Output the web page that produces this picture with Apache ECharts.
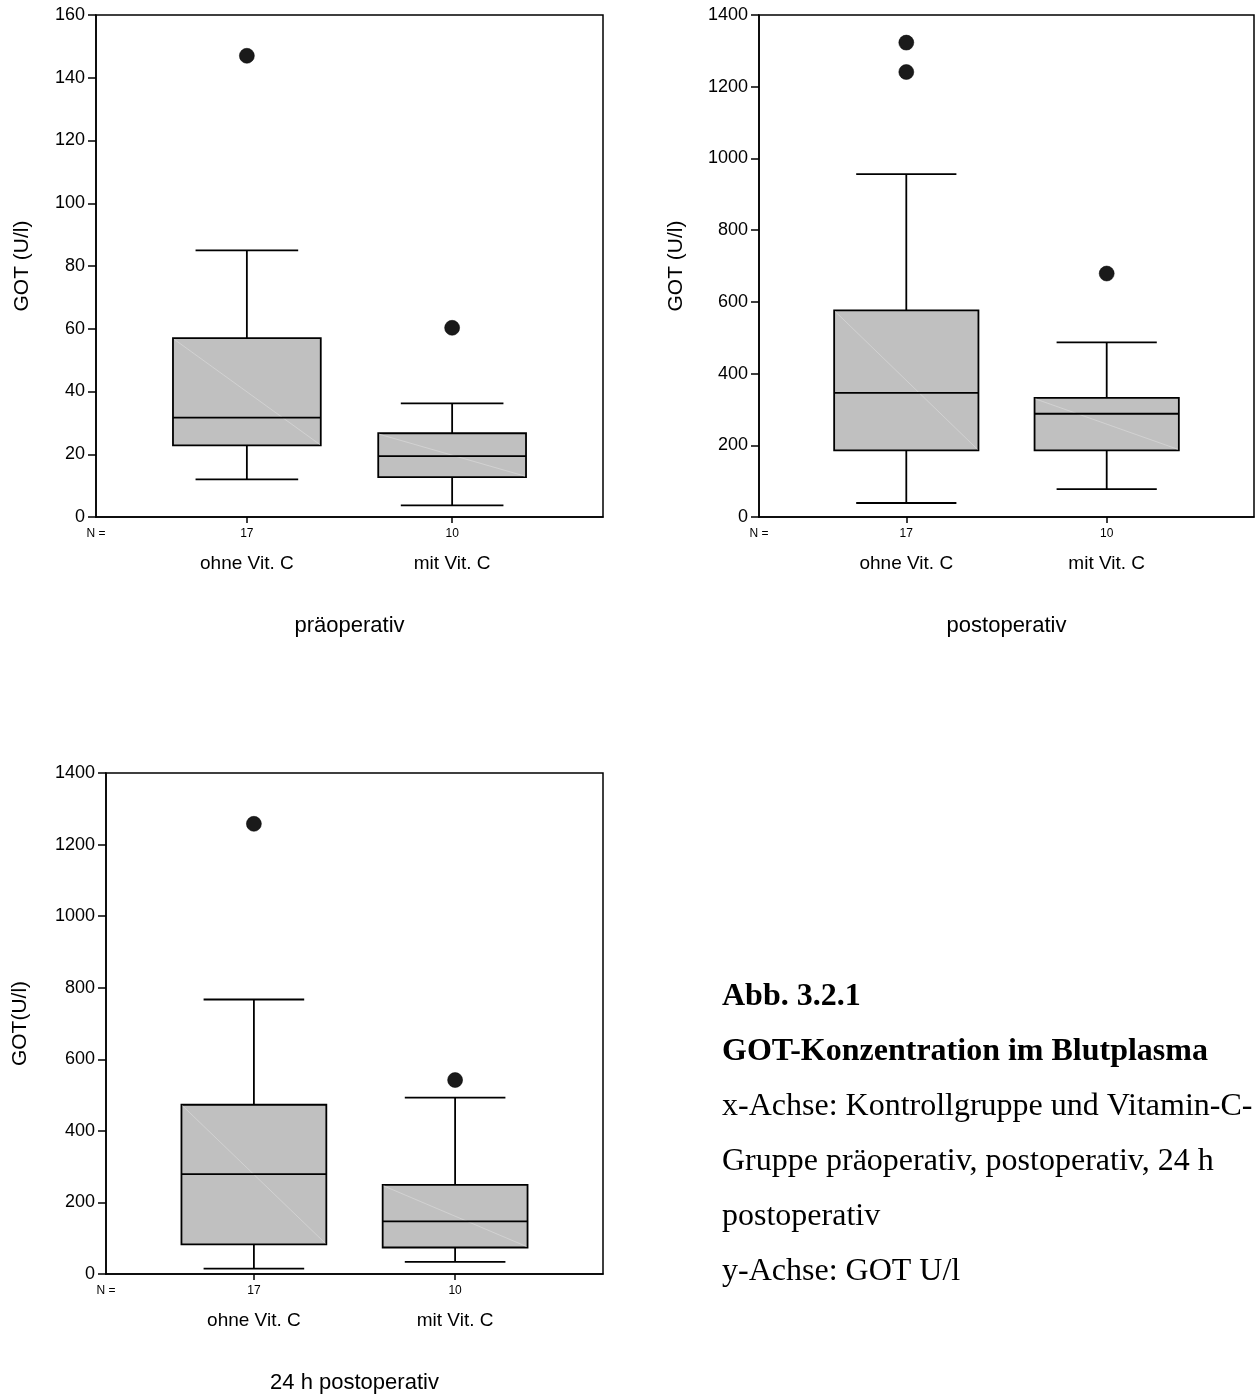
<!DOCTYPE html>
<html>
<head>
<meta charset="utf-8">
<script src="https://cdn.jsdelivr.net/npm/echarts@6.0.0/dist/echarts.min.js"></script>
<style>
  html, body { margin: 0; padding: 0; background: #fff; }
  #chart { width: 1256px; height: 1395px; }
</style>
</head>
<body>
<div id="chart"></div>
<script>
// ---------- data ----------
const groups = ['ohne Vit. C', 'mit Vit. C'];
const counts = ['17', '10'];
const panelTitles = ['präoperativ', 'postoperativ', '24 h postoperativ'];
const yNames = ['GOT (U/l)', 'GOT (U/l)', 'GOT(U/l)'];
const yMax = [160, 1400, 1400];
const yStep = [20, 200, 200];

// [min, Q1, median, Q3, max] per group
const praeBoxes = [[12, 22.8, 31.7, 57, 85], [3.7, 12.7, 19.4, 26.7, 36.2]];
const praeOutliers = [[0, 147], [1, 60.3]];

const postBoxes = [[39, 186, 346, 576, 956], [78, 186, 288, 332, 487]];
const postOutliers = [[0, 1323], [0, 1241], [1, 679]];

const h24Boxes = [[15, 83, 279, 473, 767], [34, 74, 147, 249, 493]];
const h24Outliers = [[0, 1258], [1, 542]];

const captionLines = [
  'Abb. 3.2.1',
  'GOT-Konzentration im Blutplasma',
  'x-Achse: Kontrollgruppe und Vitamin-C-',
  'Gruppe präoperativ, postoperativ, 24 h',
  'postoperativ',
  'y-Achse: GOT U/l'
];
const captionBold = [true, true, false, false, false, false];

// ---------- layout ----------
const FONT = '"Liberation Sans", Arial, sans-serif';
const SERIF = '"Liberation Serif", "Times New Roman", serif';
const X_MIN = -0.735, X_MAX = 1.735;
const gridBoxes = [
  { left: 96, top: 15, width: 507, height: 502 },
  { left: 759, top: 15, width: 495, height: 502 },
  { left: 106, top: 773, width: 497, height: 503 }
];
const yNameGaps = [63, 72, 75];
const allBoxes = [praeBoxes, postBoxes, h24Boxes];
const allOutliers = [praeOutliers, postOutliers, h24Outliers];

const LW = 1.8;

function renderBox(params, api) {
  const x = api.value(0);
  const lo = api.value(1), q1 = api.value(2), med = api.value(3), q3 = api.value(4), hi = api.value(5);
  const hb = 0.36, hc = 0.25;
  const tl = api.coord([x - hb, q3]);
  const br = api.coord([x + hb, q1]);
  const mL = api.coord([x - hb, med]);
  const mR = api.coord([x + hb, med]);
  const cHiL = api.coord([x - hc, hi]);
  const cHiR = api.coord([x + hc, hi]);
  const cLoL = api.coord([x - hc, lo]);
  const cLoR = api.coord([x + hc, lo]);
  const c = api.coord([x, hi]);
  const cLo = api.coord([x, lo]);
  const stroke = { stroke: '#000', lineWidth: LW, fill: null };
  return {
    type: 'group',
    children: [
      { type: 'line', shape: { x1: c[0], y1: c[1], x2: c[0], y2: tl[1] }, style: stroke },
      { type: 'line', shape: { x1: cLo[0], y1: br[1], x2: cLo[0], y2: cLo[1] }, style: stroke },
      { type: 'line', shape: { x1: cHiL[0], y1: cHiL[1], x2: cHiR[0], y2: cHiR[1] }, style: stroke },
      { type: 'line', shape: { x1: cLoL[0], y1: cLoL[1], x2: cLoR[0], y2: cLoR[1] }, style: stroke },
      { type: 'rect', shape: { x: tl[0], y: tl[1], width: br[0] - tl[0], height: br[1] - tl[1] },
        style: { fill: '#c0c0c0', stroke: '#000', lineWidth: LW } },
      { type: 'line', shape: { x1: tl[0] + 1, y1: tl[1] + 1, x2: br[0] - 1, y2: br[1] - 1 },
        style: { stroke: '#d6d6d6', lineWidth: 0.8 } },
      { type: 'line', shape: { x1: mL[0], y1: mL[1], x2: mR[0], y2: mR[1] }, style: stroke }
    ]
  };
}

const grid = [], xAxis = [], yAxis = [], series = [];
for (let i = 0; i < 3; i++) {
  grid.push(Object.assign({ show: true, borderColor: '#000', borderWidth: 1.5, backgroundColor: 'transparent' }, gridBoxes[i]));
  xAxis.push({
    gridIndex: i, type: 'value', min: X_MIN, max: X_MAX,
    axisLine: { show: true, onZero: false, lineStyle: { color: '#000', width: 1.5 } },
    axisTick: { show: true, customValues: [0, 1], length: 6, lineStyle: { color: '#000', width: 1.5 } },
    axisLabel: {
      show: true, customValues: [X_MIN, 0, 1], margin: 10,
      formatter: function (v) {
        if (Math.abs(v - X_MIN) < 1e-6) return '{n|N =}';
        const k = Math.round(v);
        return '{n|' + counts[k] + '}\n{c|' + groups[k] + '}';
      },
      rich: {
        n: { fontSize: 12, lineHeight: 14, color: '#000', fontFamily: FONT },
        c: { fontSize: 19, lineHeight: 46, color: '#000', fontFamily: FONT }
      }
    },
    splitLine: { show: false },
    name: panelTitles[i], nameLocation: 'middle', nameGap: 98,
    nameTextStyle: { fontSize: 22, color: '#000', fontFamily: FONT }
  });
  yAxis.push({
    gridIndex: i, type: 'value', min: 0, max: yMax[i], interval: yStep[i],
    axisLine: { show: true, onZero: false, lineStyle: { color: '#000', width: 1.5 } },
    axisTick: { show: true, length: 8, lineStyle: { color: '#000', width: 1.5 } },
    axisLabel: { fontSize: 18, color: '#000', margin: 11, fontFamily: FONT,
                 formatter: function (v) { return String(v); } },
    splitLine: { show: false },
    name: yNames[i], nameLocation: 'middle', nameGap: yNameGaps[i],
    nameTextStyle: { fontSize: 21, color: '#000', fontFamily: FONT }
  });
  series.push({
    type: 'custom', xAxisIndex: i, yAxisIndex: i,
    renderItem: renderBox,
    encode: { x: 0, y: [1, 2, 3, 4, 5] },
    data: allBoxes[i].map((b, k) => [k].concat(b)),
    silent: true, z: 2
  });
  series.push({
    type: 'scatter', xAxisIndex: i, yAxisIndex: i,
    symbol: 'circle', symbolSize: 15,
    itemStyle: { color: '#1a1a1a', borderColor: '#000', borderWidth: 0.5, opacity: 1 },
    data: allOutliers[i],
    silent: true, z: 3
  });
}

const CAP_X = 722, CAP_Y0 = 997, CAP_STEP = 55;
const graphic = captionLines.map((t, k) => ({
  type: 'text',
  x: CAP_X, y: CAP_Y0 + k * CAP_STEP,
  style: {
    text: t,
    font: (captionBold[k] ? 'bold ' : '') + '32px ' + SERIF,
    fill: '#000',
    align: 'left', verticalAlign: 'middle',
    textAlign: 'left', textVerticalAlign: 'middle'
  }
}));

const chart = echarts.init(document.getElementById('chart'), null, { renderer: 'canvas' });
chart.setOption({
  animation: false,
  backgroundColor: '#fff',
  textStyle: { fontFamily: FONT },
  grid, xAxis, yAxis, series, graphic
});
</script>
</body>
</html>
